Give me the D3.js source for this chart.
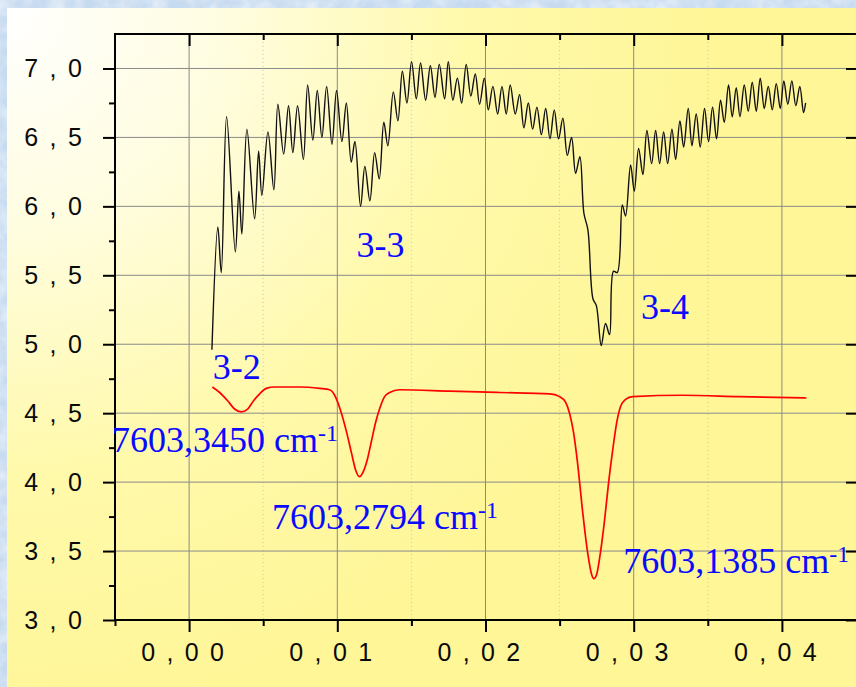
<!DOCTYPE html>
<html lang="en">
  <head>
    <meta charset="utf-8">
    <title>Spectrum</title>
  </head>
  <style>
    body { margin: 0; }
    .axis text {
      font-family: "Liberation Sans", Arial, sans-serif;
      font-size: 25px;
      letter-spacing: 2.2px;
      fill: #0a0a0a;
    }
    .axis line { stroke: #000; stroke-width: 2; }
    .anno {
      font-family: "Liberation Serif", "Times New Roman", serif;
      font-size: 36px;
      fill: #0a0aff;
    }
  </style>
  <body>
    <div id="svg-area"></div>
    <script src="https://cdn.jsdelivr.net/npm/d3@7/dist/d3.min.js"></script>
    <script>
      const svg_width = 856;
      const svg_height = 687;

      // ticks
      const xMajor = [0, 0.01, 0.02, 0.03, 0.04];
      const xMinor = [-0.005, 0.005, 0.015, 0.025, 0.035];
      const xTickLabels = ['0 , 0 0', '0 , 0 1', '0 , 0 2', '0 , 0 3', '0 , 0 4'];
      const yMajor = [3, 3.5, 4, 4.5, 5, 5.5, 6, 6.5, 7];
      const yMinor = [3.25, 3.75, 4.25, 4.75, 5.25, 5.75, 6.25, 6.75];
      const yTickLabels = ['3 , 0', '3 , 5', '4 , 0', '4 , 5', '5 , 0', '5 , 5', '6 , 0', '6 , 5', '7 , 0'];

      // black curve (measured spectrum)
      const blackX = [0.00154, 0.00194, 0.00217, 0.00253, 0.00312, 0.00336, 0.00356, 0.00390, 0.00442, 0.00469,
        0.00491, 0.00532, 0.00572, 0.00599, 0.00638, 0.00671, 0.00700, 0.00732, 0.00771, 0.00800,
        0.00835, 0.00865, 0.00896, 0.00928, 0.00964, 0.00995, 0.01031, 0.01061, 0.01094, 0.01119,
        0.01157, 0.01186, 0.01220, 0.01252, 0.01283, 0.01314, 0.01341, 0.01378, 0.01409, 0.01439,
        0.01470, 0.01501, 0.01533, 0.01562, 0.01596, 0.01628, 0.01659, 0.01688, 0.01724, 0.01749,
        0.01780, 0.01810, 0.01839, 0.01870, 0.01901, 0.01931, 0.01960, 0.01992, 0.02019, 0.02050,
        0.02082, 0.02111, 0.02140, 0.02167, 0.02201, 0.02230, 0.02259, 0.02289, 0.02318, 0.02347,
        0.02377, 0.02406, 0.02435, 0.02464, 0.02493, 0.02522, 0.02552, 0.02581, 0.02608, 0.02637,
        0.02664, 0.02691, 0.02725, 0.02748, 0.02781, 0.02810, 0.02837, 0.02864, 0.02889, 0.02923,
        0.02945, 0.02979, 0.03004, 0.03033, 0.03062, 0.03089, 0.03121, 0.03148, 0.03175, 0.03202,
        0.03229, 0.03258, 0.03283, 0.03312, 0.03337, 0.03368, 0.03393, 0.03422, 0.03449, 0.03478,
        0.03505, 0.03532, 0.03559, 0.03586, 0.03611, 0.03640, 0.03665, 0.03692, 0.03717, 0.03746,
        0.03773, 0.03800, 0.03827, 0.03854, 0.03881, 0.03908, 0.03935, 0.03962, 0.03989, 0.04013,
        0.04040, 0.04067, 0.04094, 0.04121, 0.04146, 0.04160];
      const blackY = [4.96, 5.85, 5.52, 6.65, 5.67, 6.11, 5.80, 6.56, 5.91, 6.40,
        6.08, 6.54, 6.12, 6.74, 6.38, 6.73, 6.39, 6.73, 6.34, 6.88,
        6.48, 6.84, 6.50, 6.87, 6.45, 6.84, 6.47, 6.75, 6.32, 6.47,
        6.00, 6.29, 6.04, 6.39, 6.20, 6.61, 6.44, 6.83, 6.62, 6.98,
        6.75, 7.05, 6.78, 7.04, 6.77, 7.02, 6.79, 7.03, 6.78, 7.05,
        6.77, 6.93, 6.75, 7.03, 6.80, 6.96, 6.74, 6.93, 6.70, 6.87,
        6.67, 6.87, 6.67, 6.88, 6.67, 6.81, 6.57, 6.75, 6.56, 6.72,
        6.52, 6.71, 6.49, 6.70, 6.49, 6.64, 6.37, 6.50, 6.24, 6.36,
        5.95, 5.83, 5.33, 5.28, 4.99, 5.15, 5.07, 5.53, 5.52, 6.01,
        5.93, 6.30, 6.11, 6.42, 6.23, 6.55, 6.31, 6.55, 6.31, 6.54,
        6.31, 6.56, 6.34, 6.62, 6.43, 6.71, 6.44, 6.67, 6.43, 6.71,
        6.47, 6.72, 6.49, 6.77, 6.61, 6.88, 6.65, 6.86, 6.65, 6.88,
        6.69, 6.90, 6.69, 6.93, 6.71, 6.87, 6.70, 6.89, 6.71, 6.91,
        6.74, 6.91, 6.73, 6.87, 6.68, 6.75];

      // red curve (calculated profile)
      const redX = [0.00157, 0.00206, 0.00260, 0.00307, 0.00352, 0.00395, 0.00435, 0.00476, 0.00521, 0.00577,
        0.00746, 0.00881, 0.00948, 0.00982, 0.01016, 0.01061, 0.01096, 0.01123, 0.01150, 0.01177,
        0.01204, 0.01231, 0.01258, 0.01285, 0.01319, 0.01353, 0.01420, 0.01758, 0.02095, 0.02433,
        0.02500, 0.02540, 0.02567, 0.02594, 0.02621, 0.02655, 0.02689, 0.02716, 0.02731, 0.02750,
        0.02777, 0.02804, 0.02831, 0.02858, 0.02885, 0.02912, 0.02945, 0.02993, 0.03330, 0.03715,
        0.04165];
      const redY = [4.69, 4.65, 4.59, 4.53, 4.51, 4.53, 4.59, 4.64, 4.68, 4.69,
        4.69, 4.68, 4.67, 4.63, 4.54, 4.37, 4.21, 4.09, 4.04, 4.08,
        4.17, 4.30, 4.43, 4.53, 4.62, 4.65, 4.67, 4.66, 4.65, 4.64,
        4.62, 4.58, 4.50, 4.36, 4.14, 3.79, 3.49, 3.33, 3.30, 3.33,
        3.50, 3.73, 4.00, 4.23, 4.43, 4.55, 4.60, 4.62, 4.63, 4.62,
        4.61];

      // annotations: text and anchor [x, y] in data units
      const annoText = ['3-2', '3-3', '3-4'];
      const annoAt = [[0.0016, 4.75], [0.0113, 5.63], [0.0305, 5.18]];
      const lineText = ['7603,3450 cm', '7603,2794 cm', '7603,1385 cm'];
      const lineAt = [[-0.0052, 4.22], [0.0056, 3.66], [0.0293, 3.34]];

      const margin = {top: 34, right: 0, bottom: 67, left: 115};

      const svg = d3.select('#svg-area')
        .append('svg')
        .attr('width', svg_width)
        .attr('height', svg_height);

      const defs = svg.append('defs');
      const grad = defs.append('radialGradient')
        .attr('id', 'bg').attr('gradientUnits', 'userSpaceOnUse')
        .attr('cx', 7).attr('cy', 8).attr('r', 720);
      [[0, '#ffffff'], [0.3, '#fffde0'], [0.65, '#fff9aa'], [1, '#fff697']].forEach(s =>
        grad.append('stop').attr('offset', s[0]).attr('stop-color', s[1]));
      const tex = defs.append('filter').attr('id', 'tex');
      tex.append('feTurbulence').attr('type', 'fractalNoise')
        .attr('baseFrequency', 0.06).attr('numOctaves', 3).attr('seed', 4);
      tex.append('feColorMatrix').attr('type', 'matrix')
        .attr('values', '0 0 0 0 1  0 0 0 0 1  0 0 0 0 1  1.2 0 0 0 -0.35');

      // background: blue textured border + gradient panel
      svg.append('rect').attr('width', svg_width).attr('height', svg_height).attr('fill', '#c6daf0');
      svg.append('rect').attr('width', svg_width).attr('height', svg_height)
        .attr('filter', 'url(#tex)').attr('opacity', 0.8);
      svg.append('rect').attr('x', 7).attr('y', 8)
        .attr('width', svg_width - 7).attr('height', svg_height - 8)
        .attr('fill', 'url(#bg)');

      // scales
      const x_scale = d3.scaleLinear().domain([-0.005, 0.045]).range([margin.left, svg_width]);
      const y_scale = d3.scaleLinear().domain([3, 7.25]).range([svg_height - margin.bottom, margin.top]);
      const y0 = y_scale(3), yTop = y_scale(7.25);

      // grid
      const grid = svg.append('g');
      grid.selectAll('.gx').data(xMajor).enter().append('line')
        .attr('x1', d => x_scale(d)).attr('x2', d => x_scale(d))
        .attr('y1', yTop).attr('y2', y0)
        .attr('stroke', '#8a8a8a').attr('stroke-width', 1);
      grid.selectAll('.gxm').data(xMinor.slice(1)).enter().append('line')
        .attr('x1', d => x_scale(d)).attr('x2', d => x_scale(d))
        .attr('y1', yTop).attr('y2', y0)
        .attr('stroke', '#c4c4c4').attr('stroke-width', 1).attr('stroke-dasharray', '1,3');
      grid.selectAll('.gy').data(yMajor.slice(1)).enter().append('line')
        .attr('x1', margin.left).attr('x2', svg_width)
        .attr('y1', d => y_scale(d)).attr('y2', d => y_scale(d))
        .attr('stroke', '#8a8a8a').attr('stroke-width', 1);

      // axes
      const noDomain = g => g.select('.domain').remove();
      svg.append('g').attr('class', 'axis')
        .attr('transform', `translate(0,${y0})`)
        .call(d3.axisBottom(x_scale).tickValues(xMajor).tickSize(12).tickFormat((d, i) => xTickLabels[i]))
        .call(noDomain)
        .call(g => g.selectAll('text').attr('y', 41).attr('dy', 0).attr('dx', -6));
      svg.append('g').attr('class', 'axis')
        .attr('transform', `translate(0,${y0})`)
        .call(d3.axisBottom(x_scale).tickValues(xMinor).tickSize(6).tickFormat(''))
        .call(noDomain);
      svg.append('g').attr('class', 'axis')
        .attr('transform', `translate(0,${yTop})`)
        .call(d3.axisBottom(x_scale).tickValues(xMajor).tickSize(12).tickFormat(''))
        .call(noDomain);
      svg.append('g').attr('class', 'axis')
        .attr('transform', `translate(0,${yTop})`)
        .call(d3.axisBottom(x_scale).tickValues(xMinor.slice(1)).tickSize(6).tickFormat(''))
        .call(noDomain);
      svg.append('g').attr('class', 'axis')
        .attr('transform', `translate(${margin.left},0)`)
        .call(d3.axisLeft(y_scale).tickValues(yMajor).tickSize(12).tickFormat((d, i) => yTickLabels[i]))
        .call(noDomain)
        .call(g => g.selectAll('text').attr('x', -31).attr('dy', '0.34em'));
      svg.append('g').attr('class', 'axis')
        .attr('transform', `translate(${margin.left},0)`)
        .call(d3.axisLeft(y_scale).tickValues(yMinor).tickSize(6).tickFormat(''))
        .call(noDomain);
      svg.append('g').attr('class', 'axis')
        .attr('transform', `translate(${svg_width},0)`)
        .call(d3.axisLeft(y_scale).tickValues(yMajor).tickSize(10).tickFormat(''))
        .call(noDomain);

      // frame
      const frame = svg.append('g').attr('stroke', '#000').attr('stroke-width', 2);
      frame.append('line').attr('x1', margin.left).attr('x2', margin.left).attr('y1', yTop - 1).attr('y2', y0 + 1);
      frame.append('line').attr('x1', margin.left - 1).attr('x2', svg_width).attr('y1', y0).attr('y2', y0);
      frame.append('line').attr('x1', margin.left - 1).attr('x2', svg_width).attr('y1', yTop).attr('y2', yTop);

      // curves
      const black = d3.zip(blackX, blackY);
      const red = d3.zip(redX, redY);
      svg.append('path').datum(black)
        .attr('fill', 'none').attr('stroke', '#111').attr('stroke-width', 1.4)
        .attr('d', d3.line().x(d => x_scale(d[0])).y(d => y_scale(d[1])).curve(d3.curveCatmullRom.alpha(0.5)));
      svg.append('path').datum(red)
        .attr('fill', 'none').attr('stroke', '#ff0000').attr('stroke-width', 1.7)
        .attr('d', d3.line().x(d => x_scale(d[0])).y(d => y_scale(d[1])).curve(d3.curveMonotoneX));

      // labels
      svg.append('g').selectAll('text').data(annoText).enter()
        .append('text').attr('class', 'anno')
        .attr('x', (d, i) => x_scale(annoAt[i][0]))
        .attr('y', (d, i) => y_scale(annoAt[i][1]))
        .text(d => d);
      const lt = svg.append('g').selectAll('text').data(lineText).enter()
        .append('text').attr('class', 'anno')
        .attr('x', (d, i) => x_scale(lineAt[i][0]))
        .attr('y', (d, i) => y_scale(lineAt[i][1]));
      lt.append('tspan').text(d => d);
      lt.append('tspan').attr('dy', -11).style('font-size', '24px').text('-1');
    </script>
  </body>
</html>
